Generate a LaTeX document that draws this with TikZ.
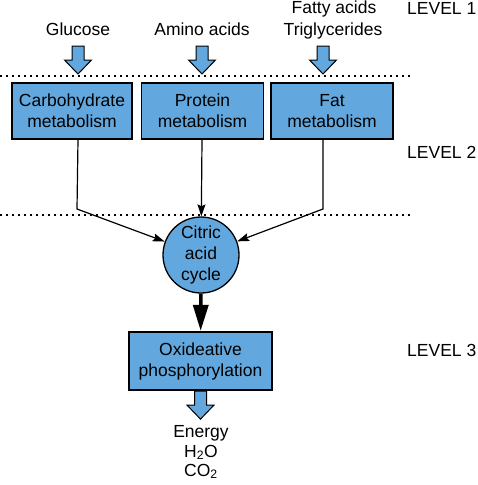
\documentclass[tikz,border=0pt]{standalone}
\usepackage{fontspec}
\setmainfont{Liberation Sans}
\usetikzlibrary{arrows.meta,calc}
\definecolor{boxblue}{RGB}{98,168,222}
\begin{document}
\begin{tikzpicture}[x=1pt,y=-1pt,
  txt/.style={font=\fontsize{17.5}{21}\selectfont, inner sep=0pt, align=center},
  lbl/.style={txt, anchor=base},
  lvl/.style={txt, anchor=base west},
  box/.style={txt, draw=black, line width=1.3pt, fill=boxblue, minimum height=56pt},
  dotline/.style={line width=1.8pt, dash pattern=on 1.8pt off 4.2pt},
  conn/.style={line width=1.2pt, -{Stealth[length=12pt,width=8pt,inset=2pt]}},
  thick conn/.style={line width=3.5pt, -{Triangle[length=26pt,width=15pt]}},
  blockdown/.pic={\filldraw[fill=boxblue, draw=black, line width=1pt]
     (-6,0) -- (-6,14) -- (-13.5,14) -- (0,28) -- (13.5,14) -- (6,14) -- (6,0) -- cycle;}
]
\useasboundingbox (0,0) rectangle (478,485);

% level 1 texts
\node[lbl] (glucose) at (78,35) {Glucose};
\node[lbl] (amino) at (202,35) {Amino acids};
\node[lbl] (fatty) at (334,13) {Fatty acids};
\node[lbl] (trig) at (333,35) {Triglycerides};
\coordinate (fatx) at (323,35);

\node[lvl] (l1) at (407,14) {LEVEL 1};
\node[lvl] (l2) at (407,158) {LEVEL 2};
\node[lvl] (l3) at (407,356) {LEVEL 3};

% dotted separators
\draw[dotline] (0,76) -- (410,76);
\draw[dotline] (0,215) -- (410,215);

% level 2 boxes
\node[box, minimum width=120pt] (carb) at (72,111) {Carbohydrate\\metabolism};
\node[box, minimum width=122pt] (prot) at (202.5,111) {Protein\\metabolism};
\node[box, minimum width=122pt] (fatbox) at (332,111) {Fat\\metabolism};

% block arrows into boxes
\path (glucose.base) ++(0,11) pic {blockdown};
\path (amino.base) ++(0,11) pic {blockdown};
\path (fatx) ++(0,11) pic {blockdown};

% citric acid cycle
\node[txt, circle, draw=black, line width=1.3pt, fill=boxblue, minimum size=76pt] (cac) at (201,255) {Citric\\acid\\cycle};

\coordinate (lcorner) at (77,209);
\coordinate (rcorner) at (323,209);
\draw[conn] (glucose |- carb.south) -- (lcorner) -- (cac);
\draw[conn] (amino |- prot.south) -- (cac);
\draw[conn] (fatx |- fatbox.south) -- (rcorner) -- (cac);

% oxidative phosphorylation
\node[box, line width=2.2pt, minimum width=143pt, minimum height=58pt] (ox) at (200.5,361) {Oxideative\\phosphorylation};
\draw[thick conn] (cac) -- (ox);

\path (ox.south) pic {blockdown};

% products
\node[lbl] (energy) at (201,437) {Energy};
\node[lbl] (water) at (201,457) {H\textsubscript{2}O};
\node[lbl] (co2) at (201,476) {CO\textsubscript{2}};
\end{tikzpicture}
\end{document}
